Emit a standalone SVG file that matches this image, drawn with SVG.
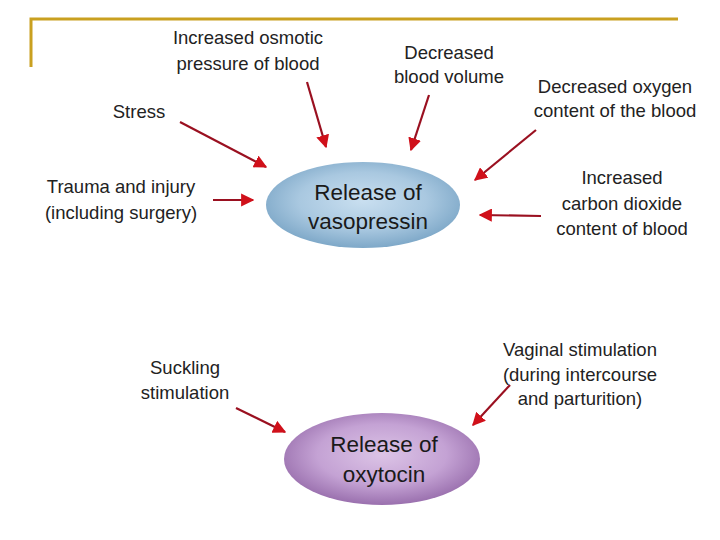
<svg xmlns="http://www.w3.org/2000/svg" width="720" height="540" viewBox="0 0 720 540">
<defs>
<radialGradient id="gBlue" cx="50%" cy="45%" r="55%">
<stop offset="0" stop-color="#c9dff0"/>
<stop offset="0.6" stop-color="#a9c8e0"/>
<stop offset="1" stop-color="#7ea8c8"/>
</radialGradient>
<radialGradient id="gPurple" cx="50%" cy="45%" r="55%">
<stop offset="0" stop-color="#dcc4e6"/>
<stop offset="0.6" stop-color="#c4a2d4"/>
<stop offset="1" stop-color="#9a70ae"/>
</radialGradient>
<marker id="ah" viewBox="0 0 10 10" refX="9" refY="5" markerWidth="6" markerHeight="6" orient="auto" markerUnits="strokeWidth">
<path d="M0,0 L10,5 L0,10 Z" fill="#d0101a"/>
</marker>
<style>
.t{font-family:"Liberation Sans",Arial,sans-serif;font-size:18.5px;fill:#222;text-anchor:middle}
.n{font-family:"Liberation Sans",Arial,sans-serif;font-size:22.5px;fill:#1a1a1a;text-anchor:middle}
.c{stroke:#9a1020;stroke-width:2.2;fill:none;marker-end:url(#ah)}
</style>
</defs>
<rect width="720" height="540" fill="#ffffff"/>
<g id="frame" fill="none" stroke="#c9a020" stroke-width="3">
<path d="M31,67 V19 H678"/>
</g>
<g id="connectors">
<line class="c" x1="180" y1="122" x2="266" y2="167"/>
<line class="c" x1="307" y1="82" x2="326" y2="147"/>
<line class="c" x1="429" y1="95" x2="411" y2="150"/>
<line class="c" x1="536" y1="130" x2="475" y2="180"/>
<line class="c" x1="213" y1="200" x2="253" y2="200"/>
<line class="c" x1="541" y1="216" x2="480" y2="215"/>
<line class="c" x1="236" y1="408" x2="285" y2="432"/>
<line class="c" x1="510" y1="385" x2="473" y2="425"/>
</g>
<g id="vasopressin">
<ellipse cx="363" cy="205" rx="97" ry="43" fill="url(#gBlue)"/>
<text class="n" x="368" y="200">Release of</text>
<text class="n" x="368" y="229">vasopressin</text>
</g>
<g id="oxytocin">
<ellipse cx="382" cy="459" rx="98" ry="46" fill="url(#gPurple)"/>
<text class="n" x="384" y="452">Release of</text>
<text class="n" x="384" y="482">oxytocin</text>
</g>
<g id="osmotic">
<text class="t" x="248" y="44">Increased osmotic</text>
<text class="t" x="248" y="70">pressure of blood</text>
</g>
<g id="stress">
<text class="t" x="139" y="118">Stress</text>
</g>
<g id="bloodvolume">
<text class="t" x="449" y="59">Decreased</text>
<text class="t" x="449" y="83">blood volume</text>
</g>
<g id="oxygen">
<text class="t" x="615" y="93">Decreased oxygen</text>
<text class="t" x="615" y="117">content of the blood</text>
</g>
<g id="trauma">
<text class="t" x="121" y="193">Trauma and injury</text>
<text class="t" x="121" y="219">(including surgery)</text>
</g>
<g id="co2">
<text class="t" x="622" y="184">Increased</text>
<text class="t" x="622" y="210">carbon dioxide</text>
<text class="t" x="622" y="235">content of blood</text>
</g>
<g id="suckling">
<text class="t" x="185" y="374">Suckling</text>
<text class="t" x="185" y="399">stimulation</text>
</g>
<g id="vaginal">
<text class="t" x="580" y="356">Vaginal stimulation</text>
<text class="t" x="580" y="381">(during intercourse</text>
<text class="t" x="580" y="405">and parturition)</text>
</g>
</svg>
